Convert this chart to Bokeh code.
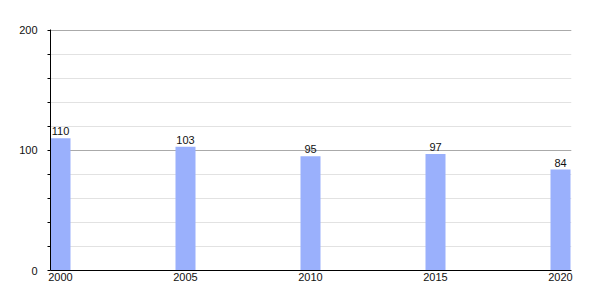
from bokeh.plotting import figure
from bokeh.models import ColumnDataSource, FixedTicker, Range1d
from bokeh.core.properties import value
from bokeh.embed import file_html
from bokeh.resources import INLINE

years = [2000, 2005, 2010, 2015, 2020]
values = [110, 103, 95, 97, 84]
labels = [str(v) for v in values]
y_ticks = [0, 100, 200]

FONT = "Liberation Sans"

src = ColumnDataSource(dict(x=years, top=values, label=labels))

p = figure(width=600, height=300, output_backend="svg", toolbar_location=None,
           x_range=Range1d(1999.6, 2020.44), y_range=Range1d(0, 200.5),
           min_border_left=50, min_border_right=29, min_border_top=29,
           min_border_bottom=30)
p.outline_line_color = None
p.background_fill_color = "white"
p.border_fill_color = "white"

p.vbar(x="x", top="top", bottom=0, width=0.8, source=src,
       fill_color="#9ab0fc", line_color=None)
p.text(x="x", y="top", text="label", source=src, text_align="center",
       text_baseline="bottom", y_offset=-3, text_font=value(FONT),
       text_font_size="11px", text_color="#111111")

p.xgrid.grid_line_color = None
p.ygrid.ticker = FixedTicker(ticks=y_ticks, minor_ticks=list(range(0, 201, 20)))
p.ygrid.grid_line_color = "#aaaaaa"
p.ygrid.minor_grid_line_color = "#e2e2e2"

p.yaxis.ticker = FixedTicker(ticks=y_ticks, minor_ticks=list(range(0, 201, 20)))
p.yaxis.axis_line_color = "black"
p.yaxis.major_tick_out = 0
p.yaxis.major_tick_in = 0
p.yaxis.minor_tick_out = 3
p.yaxis.minor_tick_in = 0
p.yaxis.minor_tick_line_color = "black"
p.yaxis.major_label_standoff = 10
p.yaxis.major_label_text_font = FONT
p.yaxis.major_label_text_font_size = "11px"
p.yaxis.major_label_text_color = "#111111"

p.xaxis.ticker = FixedTicker(ticks=years)
p.xaxis.axis_line_color = "black"
p.xaxis.major_tick_out = 0
p.xaxis.major_tick_in = 0
p.xaxis.minor_tick_out = 0
p.xaxis.major_label_standoff = 2
p.xaxis.major_label_text_font = FONT
p.xaxis.major_label_text_font_size = "11px"
p.xaxis.major_label_text_color = "#111111"

open("out.html", "w").write(file_html(p, INLINE))
